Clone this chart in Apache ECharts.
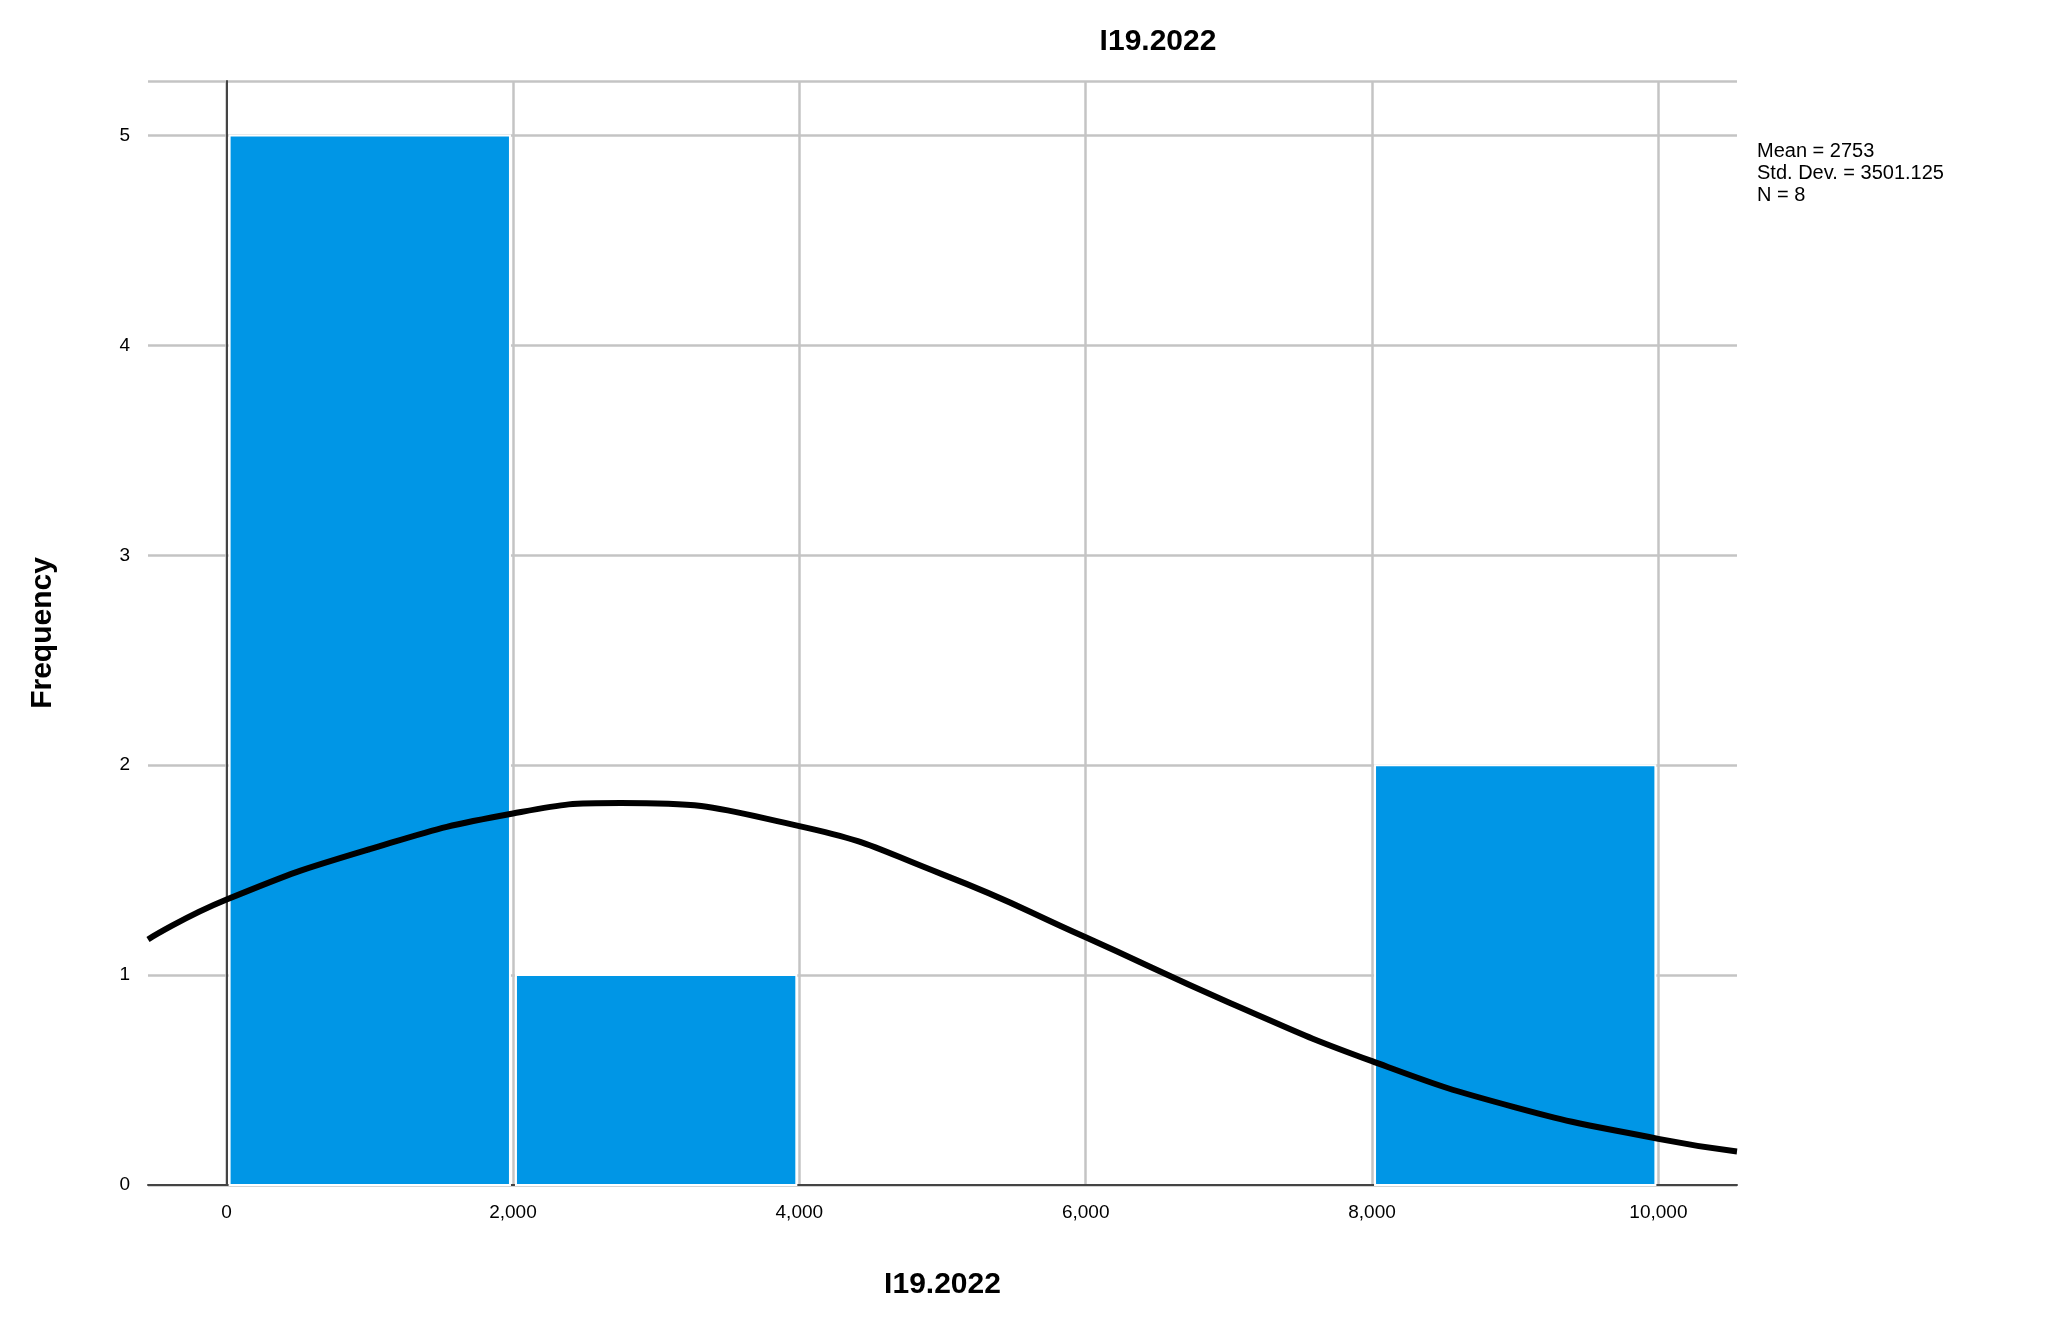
<!DOCTYPE html>
<html><head><meta charset="utf-8">
<script src="https://cdn.jsdelivr.net/npm/echarts@6/dist/echarts.min.js"></script>
<style>html,body{margin:0;background:#fff}#c{width:2054px;height:1337px}</style>
</head><body><div id="c"></div>
<script>
// histogram bins
var binStart = [0, 2000, 4000, 6000, 8000];
var binEnd = [2000, 4000, 6000, 8000, 10000];
var freq = [5, 1, 0, 0, 2];
// normal curve
var curveX = [-549, 0, 1000, 2000, 2753, 4000, 5000, 6000, 7000, 8000, 9000, 10000, 10549];
var curveY = [1.17, 1.36, 1.6, 1.77, 1.82, 1.71, 1.48, 1.18, 0.87, 0.59, 0.37, 0.22, 0.16];
var xTicks = [0, 2000, 4000, 6000, 8000, 10000];
var stats = ['Mean = 2753', 'Std. Dev. = 3501.125', 'N = 8'];

var chart = echarts.init(document.getElementById('c'));
var font = 'Arial, "Liberation Sans", sans-serif';
var bars = binStart.map(function (s, i) { return [s, binEnd[i], freq[i]]; });
var curve = curveX.map(function (x, i) { return [x, curveY[i]]; });

chart.setOption({
  animation: false,
  title: {
    text: 'I19.2022', left: 1153, top: 22, textAlign: 'center',
    textStyle: { fontFamily: font, fontSize: 30, fontWeight: 'bold', color: '#000' }
  },
  graphic: [{
    type: 'text', left: 1757, top: 140,
    style: { text: stats.join('\n'), font: '20px ' + font, fill: '#000', lineHeight: 22 }
  }],
  grid: { left: 148, right: 2054 - 1737, top: 81, bottom: 1337 - 1185 },
  xAxis: {
    type: 'value', min: -549, max: 10549,
    name: 'I19.2022', nameLocation: 'middle', nameGap: 85,
    nameTextStyle: { fontFamily: font, fontSize: 30, fontWeight: 'bold', color: '#000' },
    axisLine: { show: true, onZero: false, lineStyle: { color: '#444', width: 2 } },
    axisTick: { show: false, customValues: xTicks },
    axisLabel: { customValues: xTicks, fontFamily: font, fontSize: 19, color: '#000', margin: 18 },
    splitLine: { show: true, lineStyle: { color: '#c4c4c4', width: 2.5 } }
  },
  yAxis: {
    type: 'value', min: 0, max: 5.26, interval: 1,
    name: 'Frequency', nameLocation: 'middle', nameGap: 90,
    nameTextStyle: { fontFamily: font, fontSize: 30, fontWeight: 'bold', color: '#000' },
    axisLine: { show: true, lineStyle: { color: '#444', width: 2 } },
    axisTick: { show: false },
    axisLabel: { fontFamily: font, fontSize: 19, color: '#000', margin: 18, showMaxLabel: false },
    splitLine: { show: true, lineStyle: { color: '#c4c4c4', width: 2.5 } }
  },
  series: [{
    type: 'custom',
    data: bars,
    renderItem: function (params, api) {
      if (api.value(2) <= 0) return null;
      var p0 = api.coord([api.value(0), api.value(2)]);
      var p1 = api.coord([api.value(1), 0]);
      return {
        type: 'rect',
        shape: { x: p0[0] + 3, y: p0[1], width: p1[0] - p0[0] - 6, height: p1[1] - p0[1] },
        style: { fill: '#0096e6', stroke: '#ffffff', lineWidth: 2 }
      };
    }
  }, {
    type: 'line', data: curve, smooth: true, showSymbol: false,
    lineStyle: { color: '#000', width: 6 }, z: 5
  }]
});
</script></body></html>
